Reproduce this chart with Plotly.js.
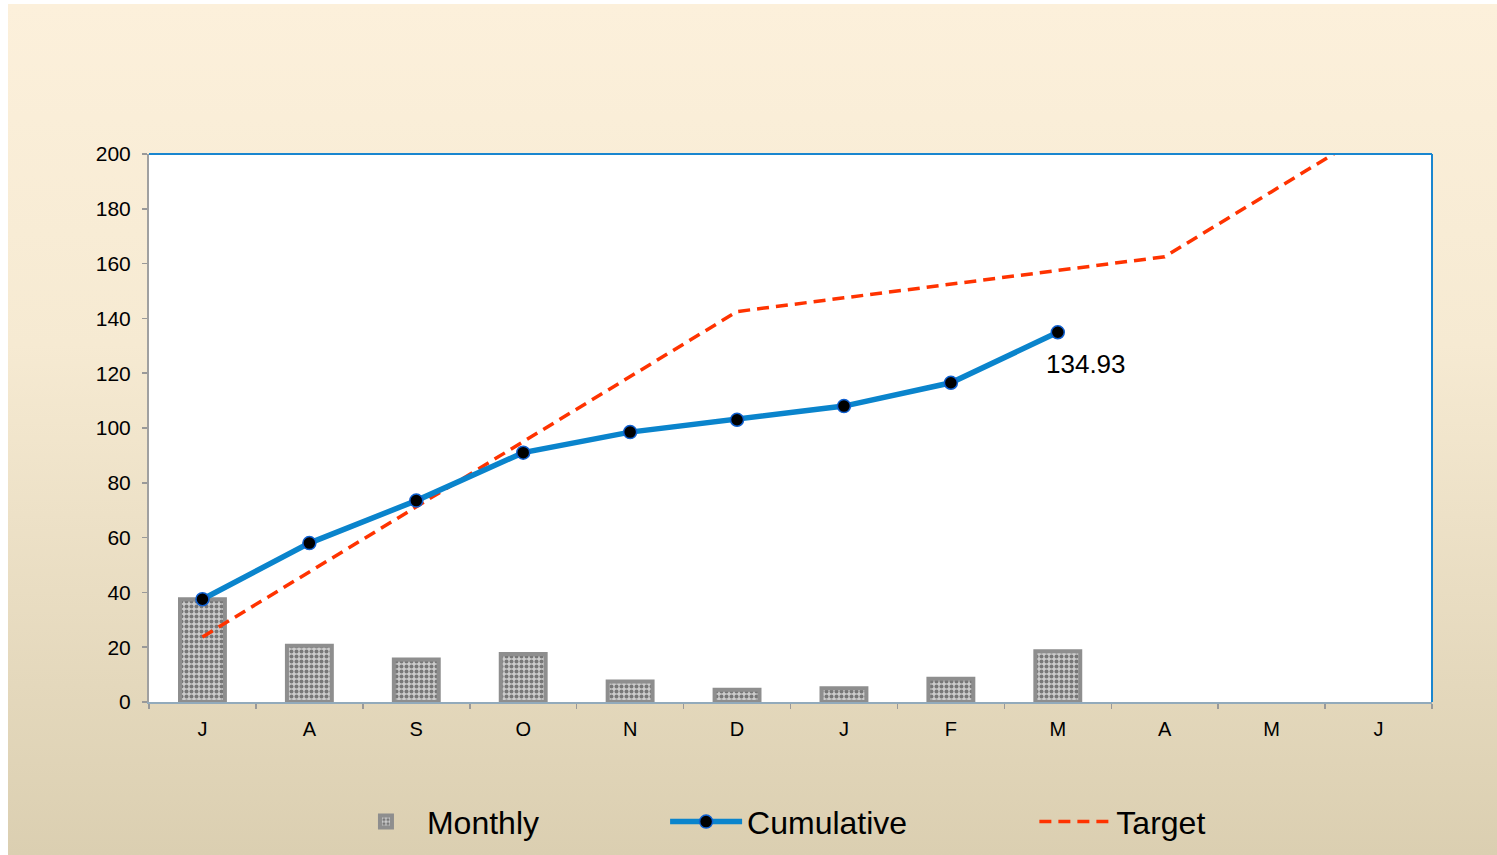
<!DOCTYPE html>
<html>
<head>
<meta charset="utf-8">
<script src="https://cdn.plot.ly/plotly-3.0.1.min.js"></script>
<style>
  html, body { margin: 0; padding: 0; background: #ffffff; }
  #chart {
    position: absolute; left: 8px; top: 4px; width: 1489px; height: 851px;
    background: linear-gradient(to bottom, #FCF0DB 0%, #F6EAD2 40%, #DBCFB1 100%);
  }
</style>
</head>
<body>
<div id="chart"></div>
<script>
// Data
const monthLabels = ["J", "A", "S", "O", "N", "D", "J", "F", "M", "A", "M", "J"];
const monthlyValues = [37.5, 20.5, 15.5, 17.5, 7.5, 4.5, 5, 8.5, 18.5];
const cumulativeValues = [37.5, 58, 73.5, 91, 98.5, 103, 108, 116.5, 134.93];
const targetValues = [23.75, 47.5, 71.25, 95, 118.75, 142.5, 147.5, 152.5, 157.5, 162.5, 186.25, 210];
const yTicks = [0, 20, 40, 60, 80, 100, 120, 140, 160, 180, 200];

const idx = monthLabels.map((_, i) => i);
const font = "Liberation Sans, Arial, Helvetica, sans-serif";

const monthly = {
  type: "bar",
  name: "Monthly",
  x: idx.slice(0, monthlyValues.length),
  y: monthlyValues,
  width: 0.42,
  marker: {
    color: "#c4c4c4",
    line: { color: "#8e8e8e", width: 4 },
    pattern: { shape: ".", fgcolor: "#777777", bgcolor: "#cccccc", size: 5, solidity: 0.5 }
  },
  legend: "legend",
  hoverinfo: "skip"
};

const target = {
  type: "scatter",
  mode: "lines",
  name: "Target",
  x: idx,
  y: targetValues,
  line: { color: "#FF3300", width: 3.5, dash: "12px,7px" },
  legend: "legend3",
  hoverinfo: "skip"
};

const cumulative = {
  type: "scatter",
  mode: "lines+markers",
  name: "Cumulative",
  x: idx.slice(0, cumulativeValues.length),
  y: cumulativeValues,
  line: { color: "#0A84CC", width: 5.5 },
  marker: { color: "#000000", size: 13, line: { color: "#1060D0", width: 1.5 } },
  legend: "legend2",
  hoverinfo: "skip"
};

const lastI = cumulativeValues.length - 1;

function legendAt(xc) {
  return {
    orientation: "h",
    xref: "container", yref: "container",
    x: xc, xanchor: "left",
    y: 0.039, yanchor: "middle",
    font: { size: 32, family: font, color: "#000" },
    bgcolor: "rgba(0,0,0,0)",
    itemwidth: 72
  };
}

const layout = {
  width: 1489,
  height: 851,
  paper_bgcolor: "rgba(0,0,0,0)",
  plot_bgcolor: "#ffffff",
  margin: { l: 141, r: 65, t: 150, b: 153, autoexpand: false },
  font: { family: font, color: "#000000" },
  showlegend: true,
  legend: legendAt(0.2263),
  legend2: legendAt(0.4413),
  legend3: legendAt(0.6893),
  xaxis: {
    range: [-0.5, 11.5],
    tickmode: "array",
    tickvals: idx,
    ticktext: monthLabels,
    ticks: "",
    showgrid: false,
    zeroline: false,
    showline: true,
    linecolor: "#92AABB",
    linewidth: 2,
    tickfont: { size: 20, family: font, color: "#000" },
    ticklabelstandoff: 8,
    minor: { ticks: "outside", tick0: -0.5, dtick: 1, ticklen: 5, tickcolor: "#999999", tickwidth: 1.5, showgrid: false },
    fixedrange: true
  },
  yaxis: {
    range: [0, 200],
    tickmode: "array",
    tickvals: yTicks,
    ticktext: yTicks.map(String),
    ticks: "outside",
    ticklen: 5,
    tickcolor: "#999999",
    tickwidth: 1.5,
    showgrid: false,
    zeroline: false,
    showline: true,
    linecolor: "#A0A0A0",
    linewidth: 2,
    tickfont: { size: 21, family: font, color: "#000" },
    ticklabelstandoff: 7,
    fixedrange: true
  },
  shapes: [
    { type: "line", xref: "paper", yref: "paper", x0: 0, x1: 1, y0: 1, y1: 1, line: { color: "#1A86CF", width: 2 } },
    { type: "line", xref: "paper", yref: "paper", x0: 1, x1: 1, y0: 0, y1: 1, line: { color: "#1A86CF", width: 2 } }
  ],
  annotations: [
    {
      x: idx[lastI], y: cumulativeValues[lastI],
      xref: "x", yref: "y",
      text: cumulativeValues[lastI].toFixed(2),
      showarrow: false,
      xshift: 28, yshift: -32,
      font: { size: 26, family: font, color: "#000" }
    }
  ]
};

Plotly.newPlot("chart", [monthly, target, cumulative], layout, { displayModeBar: false, staticPlot: true });
</script>
</body>
</html>
